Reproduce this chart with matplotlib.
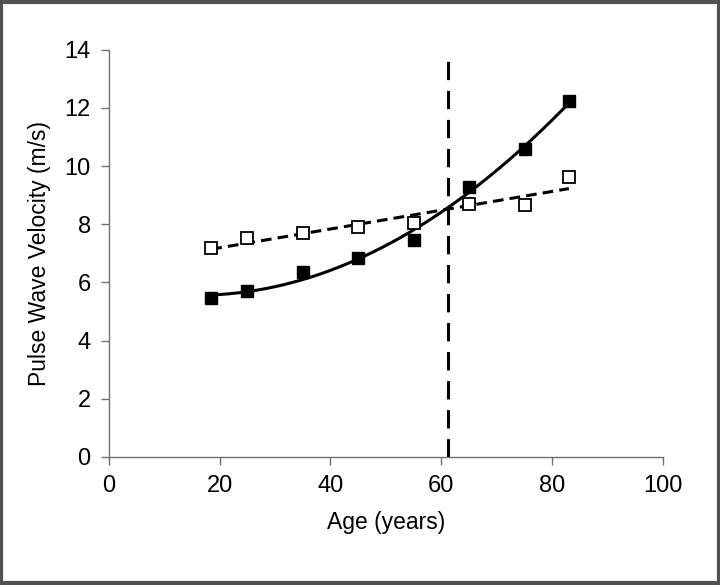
import numpy as np
import matplotlib
matplotlib.use('Agg')
import matplotlib.pyplot as plt
from matplotlib.patches import Rectangle

plt.rcParams['font.family'] = ['Liberation Sans', 'DejaVu Sans']

age = [18.5, 25, 35, 45, 55, 65, 75, 83]
pwv_filled = [5.46, 5.69, 6.35, 6.84, 7.46, 9.28, 10.6, 12.22]
pwv_open = [7.18, 7.51, 7.71, 7.89, 8.04, 8.70, 8.65, 9.64]
cutoff_age = 61.2

fig = plt.figure(figsize=(7.2, 5.85), dpi=100)
ax = fig.add_axes([0.151, 0.219, 0.770, 0.696])

xs = np.linspace(min(age), max(age), 200)
quad = np.polyfit(age, pwv_filled, 2)
lin = np.polyfit(age, pwv_open, 1)
ax.plot(xs, np.polyval(quad, xs), color='black', lw=2.2, zorder=2)
ax.plot(xs, np.polyval(lin, xs), color='black', lw=2.2, ls=(0, (3.5, 2)), zorder=2)

ax.plot(age, pwv_filled, ls='none', marker='s', ms=9, mfc='black', mec='black', zorder=3)
ax.plot(age, pwv_open, ls='none', marker='s', ms=9, mfc='white', mec='black', mew=1.3, zorder=3)

ax.plot([cutoff_age, cutoff_age], [0, 13.7], color='black', lw=2.2, ls=(0, (6, 3.5)), zorder=1)

ax.set_xlim(0, 100)
ax.set_ylim(0, 14)
ax.set_xticks(range(0, 101, 20))
ax.set_yticks(range(0, 15, 2))
for s in ['top', 'right']:
    ax.spines[s].set_visible(False)
for s in ['left', 'bottom']:
    ax.spines[s].set_color('#707070')
    ax.spines[s].set_linewidth(1.0)
ax.tick_params(direction='out', length=6, width=1, color='#707070', labelsize=17, pad=7)
ax.set_xlabel('Age (years)', fontsize=16.5, labelpad=10)
ax.set_ylabel('Pulse Wave Velocity (m/s)', fontsize=16.5, labelpad=10)

fig.patches.append(Rectangle((0.002, 0.003), 0.996, 0.994, transform=fig.transFigure,
                             fill=False, edgecolor='#505050', lw=3))

fig.savefig('out.png', dpi=100)
